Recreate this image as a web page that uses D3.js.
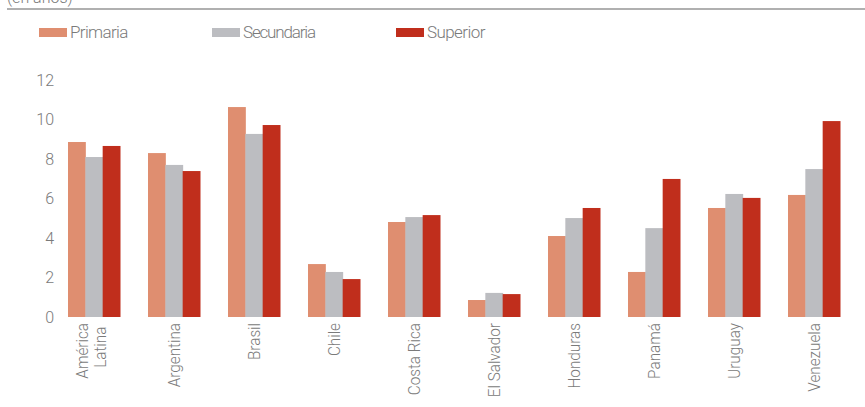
<!DOCTYPE html>
<html>
<head>
<meta charset="utf-8">
<script src="https://cdn.jsdelivr.net/npm/d3@7"></script>
<style>
  body { margin: 0; background: #fff; }
  text { font-family: Roboto, sans-serif; font-weight: 300; fill: #7a7a7a; }
</style>
</head>
<body>
<div id="chart"></div>
<script>
const countries = ["América Latina", "Argentina", "Brasil", "Chile", "Costa Rica", "El Salvador", "Honduras", "Panamá", "Uruguay", "Venezuela"];
const series = ["Primaria", "Secundaria", "Superior"];
const primaria = [8.86, 8.3, 10.63, 2.68, 4.81, 0.86, 4.1, 2.28, 5.52, 6.18];
const secundaria = [8.1, 7.7, 9.27, 2.28, 5.06, 1.22, 5.01, 4.5, 6.23, 7.49];
const superior = [8.66, 7.39, 9.72, 1.92, 5.16, 1.16, 5.52, 6.99, 6.03, 9.92];
const yTicks = [0, 2, 4, 6, 8, 10, 12];
const colors = ["#df8e70", "#bcbdc1", "#c02e1c"];

const width = 865;
const height = 407;
const values = [primaria, secundaria, superior];

const svg = d3.select("#chart")
    .append("svg")
    .attr("width", width)
    .attr("height", height);

// header text (cut off at the top like the reference) + rule
svg.append("text")
    .attr("x", 7)
    .attr("y", 3)
    .style("font-size", "16px")
    .text("(en años)");

svg.append("line")
    .attr("x1", 7).attr("x2", width)
    .attr("y1", 9).attr("y2", 9)
    .attr("stroke", "#b0b0b0")
    .attr("stroke-width", 2);

const xScale = d3.scaleBand()
    .domain(countries)
    .range([54, 854])
    .paddingInner(0.35)
    .paddingOuter(0.175);

const xSub = d3.scaleBand()
    .domain(series)
    .range([0, xScale.bandwidth()]);

const yScale = d3.scaleLinear()
    .domain([0, 12])
    .range([317, 80]);

// y axis labels
const yAxis = svg.append("g")
    .attr("transform", "translate(54, 0)")
    .call(d3.axisLeft(yScale).tickValues(yTicks).tickSize(0).tickPadding(0));
yAxis.select(".domain").remove();
yAxis.selectAll("text")
    .style("font-size", "16px")
    .attr("font-family", null)
    .attr("fill", null);

// bars
series.forEach((s, i) => {
    svg.append("g")
        .selectAll("rect")
        .data(countries)
        .enter()
        .append("rect")
        .attr("x", d => xScale(d) + xSub(s))
        .attr("y", (d, j) => yScale(values[i][j]))
        .attr("width", xSub.bandwidth() + 0.5)
        .attr("height", (d, j) => yScale(0) - yScale(values[i][j]))
        .attr("fill", colors[i]);
});

// x labels (rotated)
const xLabels = svg.append("g")
    .selectAll("text")
    .data(countries)
    .enter()
    .append("text")
    .attr("transform", d => "translate(" + (xScale(d) + xScale.bandwidth() / 2) + ", 323) rotate(-90) scale(0.9, 1)")
    .attr("text-anchor", "end")
    .style("font-size", "17px");

xLabels.each(function (d) {
    const t = d3.select(this);
    if (d === "América Latina") {
        t.append("tspan").attr("x", 0).attr("dy", "-0.35em").text("América");
        t.append("tspan").attr("x", -4).attr("dy", "1.05em").text("Latina");
    } else {
        t.append("tspan").attr("x", 0).attr("dy", "0.35em").text(d);
    }
});

// legend
const legendX = [39, 212, 396];
const legend = svg.append("g")
    .selectAll("g")
    .data(series)
    .enter()
    .append("g")
    .attr("transform", (d, i) => "translate(" + legendX[i] + ", 28)");

legend.append("rect")
    .attr("width", 28)
    .attr("height", 9)
    .attr("fill", (d, i) => colors[i]);

legend.append("text")
    .attr("x", 31)
    .attr("y", 10)
    .style("font-size", "17px")
    .attr("textLength", d => d.length * 7.3)
    .text(d => d);
</script>
</body>
</html>
